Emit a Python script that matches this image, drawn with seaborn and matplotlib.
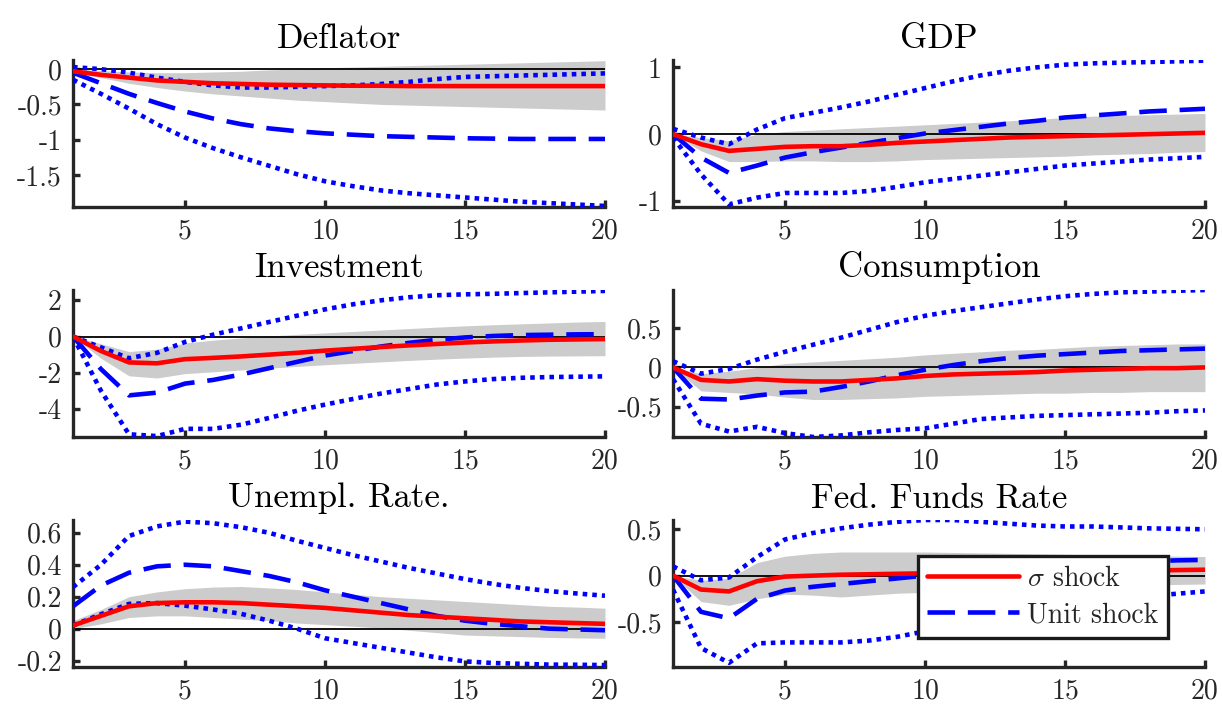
import numpy as np
import matplotlib
matplotlib.use("Agg")
import matplotlib.pyplot as plt
import seaborn as sns

# horizon
periods = list(range(1, 21))

# ---- Deflator ----
defl_sigma = [-0.03, -0.08, -0.12, -0.16, -0.18, -0.2, -0.21, -0.22, -0.225, -0.23,
              -0.235, -0.235, -0.24, -0.24, -0.24, -0.24, -0.24, -0.24, -0.24, -0.24]
defl_band_hi = [0.0, -0.02, -0.04, -0.05, -0.05, -0.04, -0.03, -0.01, 0.0, 0.02,
                0.03, 0.04, 0.05, 0.06, 0.07, 0.08, 0.09, 0.1, 0.11, 0.12]
defl_band_lo = [-0.05, -0.12, -0.2, -0.26, -0.31, -0.35, -0.38, -0.41, -0.44, -0.46,
                -0.48, -0.5, -0.51, -0.52, -0.53, -0.54, -0.55, -0.56, -0.57, -0.58]
defl_unit = [-0.05, -0.2, -0.35, -0.48, -0.6, -0.7, -0.78, -0.84, -0.88, -0.91,
             -0.93, -0.95, -0.96, -0.97, -0.98, -0.985, -0.99, -0.99, -0.99, -0.99]
defl_unit_hi = [0.03, 0.0, -0.05, -0.12, -0.18, -0.23, -0.26, -0.26, -0.25, -0.24,
                -0.23, -0.21, -0.18, -0.14, -0.11, -0.1, -0.09, -0.08, -0.07, -0.06]
defl_unit_lo = [-0.15, -0.35, -0.56, -0.78, -0.97, -1.12, -1.25, -1.37, -1.49, -1.59,
                -1.66, -1.72, -1.76, -1.79, -1.82, -1.85, -1.88, -1.9, -1.92, -1.94]

# ---- GDP ----
gdp_sigma = [0.0, -0.15, -0.25, -0.22, -0.19, -0.18, -0.18, -0.16, -0.13, -0.11,
             -0.09, -0.07, -0.05, -0.04, -0.03, -0.02, -0.01, 0.0, 0.01, 0.02]
gdp_band_hi = [0.0, -0.05, -0.1, 0.0, 0.04, 0.06, 0.08, 0.1, 0.12, 0.14,
               0.16, 0.18, 0.2, 0.22, 0.25, 0.27, 0.28, 0.29, 0.3, 0.31]
gdp_band_lo = [0.0, -0.25, -0.41, -0.41, -0.4, -0.4, -0.41, -0.41, -0.4, -0.38,
               -0.37, -0.36, -0.35, -0.34, -0.33, -0.31, -0.3, -0.29, -0.27, -0.26]
gdp_unit = [0.0, -0.35, -0.58, -0.47, -0.35, -0.27, -0.2, -0.13, -0.06, 0.01,
            0.06, 0.11, 0.16, 0.2, 0.25, 0.28, 0.31, 0.34, 0.36, 0.38]
gdp_unit_hi = [0.08, -0.05, -0.15, 0.07, 0.24, 0.32, 0.4, 0.49, 0.59, 0.69,
               0.79, 0.88, 0.95, 1.0, 1.04, 1.06, 1.07, 1.08, 1.09, 1.1]
gdp_unit_lo = [-0.05, -0.6, -1.05, -0.95, -0.88, -0.88, -0.88, -0.85, -0.79, -0.72,
               -0.67, -0.62, -0.57, -0.52, -0.47, -0.44, -0.41, -0.38, -0.36, -0.34]

# ---- Investment ----
inv_sigma = [0.0, -0.8, -1.43, -1.48, -1.25, -1.18, -1.1, -1.0, -0.9, -0.78,
             -0.68, -0.58, -0.49, -0.41, -0.33, -0.27, -0.22, -0.18, -0.16, -0.14]
inv_band_hi = [0.0, -0.4, -0.83, -0.7, -0.36, -0.2, -0.08, 0.03, 0.12, 0.2,
               0.28, 0.36, 0.44, 0.52, 0.59, 0.65, 0.7, 0.75, 0.8, 0.83]
inv_band_lo = [0.0, -1.2, -2.17, -2.29, -2.05, -1.95, -1.85, -1.75, -1.65, -1.56,
               -1.48, -1.4, -1.32, -1.25, -1.19, -1.14, -1.1, -1.08, -1.07, -1.06]
inv_unit = [0.0, -1.8, -3.25, -3.1, -2.6, -2.4, -2.1, -1.75, -1.4, -1.05,
            -0.8, -0.55, -0.35, -0.18, -0.05, 0.03, 0.08, 0.1, 0.12, 0.13]
inv_unit_hi = [0.0, -0.6, -1.2, -0.9, -0.3, 0.1, 0.45, 0.8, 1.15, 1.5,
               1.78, 2.0, 2.17, 2.28, 2.33, 2.36, 2.4, 2.44, 2.48, 2.52]
inv_unit_lo = [0.0, -3.0, -5.4, -5.5, -5.1, -5.1, -4.87, -4.5, -4.1, -3.76,
               -3.45, -3.15, -2.9, -2.65, -2.48, -2.35, -2.28, -2.24, -2.22, -2.2]

# ---- Consumption ----
cons_sigma = [0.0, -0.16, -0.18, -0.15, -0.17, -0.18, -0.18, -0.16, -0.14, -0.11,
              -0.09, -0.08, -0.07, -0.06, -0.04, -0.03, -0.02, -0.01, -0.01, 0.0]
cons_band_hi = [0.0, -0.08, -0.05, 0.0, 0.05, 0.07, 0.09, 0.11, 0.13, 0.16,
                0.18, 0.2, 0.22, 0.23, 0.25, 0.27, 0.28, 0.29, 0.3, 0.3]
cons_band_lo = [0.0, -0.3, -0.32, -0.34, -0.38, -0.41, -0.41, -0.4, -0.39, -0.37,
                -0.36, -0.35, -0.34, -0.33, -0.33, -0.32, -0.32, -0.31, -0.31, -0.31]
cons_unit = [0.0, -0.4, -0.41, -0.36, -0.32, -0.31, -0.25, -0.18, -0.1, -0.03,
             0.03, 0.08, 0.12, 0.15, 0.17, 0.19, 0.21, 0.22, 0.23, 0.24]
cons_unit_hi = [0.08, -0.08, -0.02, 0.1, 0.2, 0.29, 0.38, 0.48, 0.58, 0.66,
                0.72, 0.77, 0.82, 0.87, 0.91, 0.94, 0.96, 0.97, 0.98, 0.99]
cons_unit_lo = [-0.15, -0.72, -0.82, -0.76, -0.84, -0.89, -0.87, -0.83, -0.8, -0.78,
                -0.72, -0.66, -0.64, -0.62, -0.61, -0.6, -0.59, -0.58, -0.56, -0.55]

# ---- Unemployment rate ----
unemp_sigma = [0.02, 0.08, 0.14, 0.16, 0.165, 0.165, 0.16, 0.15, 0.14, 0.13,
               0.115, 0.1, 0.085, 0.075, 0.065, 0.055, 0.045, 0.04, 0.035, 0.03]
unemp_band_hi = [0.05, 0.12, 0.2, 0.23, 0.25, 0.26, 0.264, 0.255, 0.245, 0.23,
                 0.215, 0.2, 0.19, 0.18, 0.17, 0.16, 0.15, 0.14, 0.135, 0.128]
unemp_band_lo = [0.0, 0.03, 0.07, 0.08, 0.08, 0.07, 0.06, 0.05, 0.035, 0.025,
                 0.015, 0.004, -0.01, -0.025, -0.04, -0.045, -0.05, -0.055, -0.058, -0.06]
unemp_unit = [0.14, 0.27, 0.35, 0.39, 0.4, 0.39, 0.36, 0.33, 0.29, 0.24,
              0.2, 0.16, 0.12, 0.08, 0.05, 0.03, 0.015, 0.0, -0.005, -0.01]
unemp_unit_hi = [0.26, 0.4, 0.58, 0.64, 0.67, 0.66, 0.635, 0.6, 0.55, 0.505,
                 0.46, 0.42, 0.38, 0.345, 0.31, 0.28, 0.255, 0.235, 0.22, 0.206]
unemp_unit_lo = [0.02, 0.09, 0.155, 0.16, 0.144, 0.12, 0.093, 0.05, 0.0, -0.06,
                 -0.09, -0.12, -0.15, -0.18, -0.205, -0.215, -0.22, -0.225, -0.226, -0.228]

# ---- Fed funds rate ----
ffr_sigma = [0.0, -0.15, -0.17, -0.06, -0.01, 0.0, 0.01, 0.015, 0.02, 0.025,
             0.03, 0.035, 0.04, 0.04, 0.045, 0.05, 0.05, 0.055, 0.06, 0.064]
ffr_band_hi = [0.0, -0.05, -0.03, 0.14, 0.21, 0.24, 0.255, 0.255, 0.255, 0.255,
               0.25, 0.245, 0.24, 0.235, 0.23, 0.225, 0.22, 0.215, 0.21, 0.206]
ffr_band_lo = [0.0, -0.28, -0.32, -0.25, -0.2, -0.21, -0.23, -0.21, -0.19, -0.18,
               -0.17, -0.16, -0.15, -0.14, -0.13, -0.12, -0.11, -0.1, -0.095, -0.09]
ffr_unit = [0.0, -0.39, -0.46, -0.25, -0.16, -0.12, -0.09, -0.06, -0.03, 0.0,
            0.03, 0.05, 0.07, 0.09, 0.11, 0.13, 0.14, 0.155, 0.165, 0.17]
ffr_unit_hi = [0.1, -0.05, -0.02, 0.2, 0.39, 0.46, 0.51, 0.55, 0.58, 0.6,
               0.6, 0.58, 0.56, 0.54, 0.53, 0.53, 0.52, 0.51, 0.505, 0.5]
ffr_unit_lo = [-0.15, -0.78, -0.94, -0.73, -0.72, -0.72, -0.72, -0.7, -0.66, -0.6,
               -0.55, -0.5, -0.45, -0.4, -0.35, -0.3, -0.26, -0.22, -0.195, -0.17]

titles = ["Deflator", "GDP", "Investment", "Consumption", "Unempl. Rate.", "Fed. Funds Rate"]
series = [
    (defl_sigma, defl_band_lo, defl_band_hi, defl_unit, defl_unit_lo, defl_unit_hi),
    (gdp_sigma, gdp_band_lo, gdp_band_hi, gdp_unit, gdp_unit_lo, gdp_unit_hi),
    (inv_sigma, inv_band_lo, inv_band_hi, inv_unit, inv_unit_lo, inv_unit_hi),
    (cons_sigma, cons_band_lo, cons_band_hi, cons_unit, cons_unit_lo, cons_unit_hi),
    (unemp_sigma, unemp_band_lo, unemp_band_hi, unemp_unit, unemp_unit_lo, unemp_unit_hi),
    (ffr_sigma, ffr_band_lo, ffr_band_hi, ffr_unit, ffr_unit_lo, ffr_unit_hi),
]
ylims = [(-1.955, 0.13), (-1.09, 1.11), (-5.55, 2.57), (-0.89, 0.99), (-0.24, 0.68), (-0.985, 0.6)]
yticks = [[-1.5, -1, -0.5, 0], [-1, 0, 1], [-4, -2, 0, 2], [-0.5, 0, 0.5],
          [-0.2, 0, 0.2, 0.4, 0.6], [-0.5, 0, 0.5]]
ytick_labels = [["-1.5", "-1", "-0.5", "0"], ["-1", "0", "1"], ["-4", "-2", "0", "2"],
                ["-0.5", "0", "0.5"], ["-0.2", "0", "0.2", "0.4", "0.6"], ["-0.5", "0", "0.5"]]
xticks = [5, 10, 15, 20]

sns.set_theme(style="ticks")
plt.rcParams['font.family'] = ['cmr10', 'DejaVu Serif']
plt.rcParams['mathtext.fontset'] = 'cm'
plt.rcParams['axes.unicode_minus'] = False

fig = plt.figure(figsize=(12.22, 7.08), dpi=100)
W, H = 1222, 708
lefts = [73, 673]
tops = [60, 290, 520]
aw, ah = 532, 147
spine_col = "#262626"
lw = 3.3

for i, (title, data) in enumerate(zip(titles, series)):
    r, c = divmod(i, 2)
    ax = fig.add_axes([lefts[c] / W, 1 - (tops[r] + ah) / H, aw / W, ah / H])
    sig, blo, bhi, unit, ulo, uhi = data
    ax.fill_between(periods, blo, bhi, color="#cccccc", linewidth=0, zorder=1)
    ax.axhline(0, color="black", linewidth=1.3, zorder=2)
    sns.lineplot(x=periods, y=sig, ax=ax, color="red", linewidth=lw, zorder=4,
                 label=r"$\sigma$ shock" if i == 5 else None)
    sns.lineplot(x=periods, y=unit, ax=ax, color="blue", linewidth=lw, zorder=3,
                 linestyle=(0, (6, 2.8)), label="Unit shock" if i == 5 else None)
    sns.lineplot(x=periods, y=uhi, ax=ax, color="blue", linewidth=lw, zorder=3,
                 linestyle=(0, (1, 1.1)))
    sns.lineplot(x=periods, y=ulo, ax=ax, color="blue", linewidth=lw, zorder=3,
                 linestyle=(0, (1, 1.1)))
    ax.set_xlim(1, 20)
    ax.set_ylim(*ylims[i])
    ax.set_xticks(xticks)
    ax.set_xticklabels([str(t) for t in xticks])
    ax.set_yticks(yticks[i])
    ax.set_yticklabels(ytick_labels[i])
    ax.set_title(title, fontsize=25, pad=9, color="black")
    for side in ["top", "right"]:
        ax.spines[side].set_visible(False)
    for side in ["left", "bottom"]:
        ax.spines[side].set_linewidth(2.4)
        ax.spines[side].set_color(spine_col)
    ax.tick_params(direction="in", length=5, width=2.4, color=spine_col,
                   labelsize=20, labelcolor=spine_col)
    ax.tick_params(axis="x", pad=8)
    ax.tick_params(axis="y", pad=8)
    ax.set_xlabel("")
    ax.set_ylabel("")
    if i == 5:
        leg = ax.legend(loc="upper left", bbox_to_anchor=(0.46, 0.755), fontsize=20,
                        frameon=True, fancybox=False, framealpha=1, edgecolor="#1a1a1a",
                        handlelength=3.3, borderpad=0.35, labelspacing=0.35,
                        handletextpad=0.3, borderaxespad=0)
        leg.get_frame().set_linewidth(2.4)
        leg.set_zorder(10)
    elif ax.get_legend() is not None:
        ax.get_legend().remove()

fig.savefig("out.png", dpi=100)
